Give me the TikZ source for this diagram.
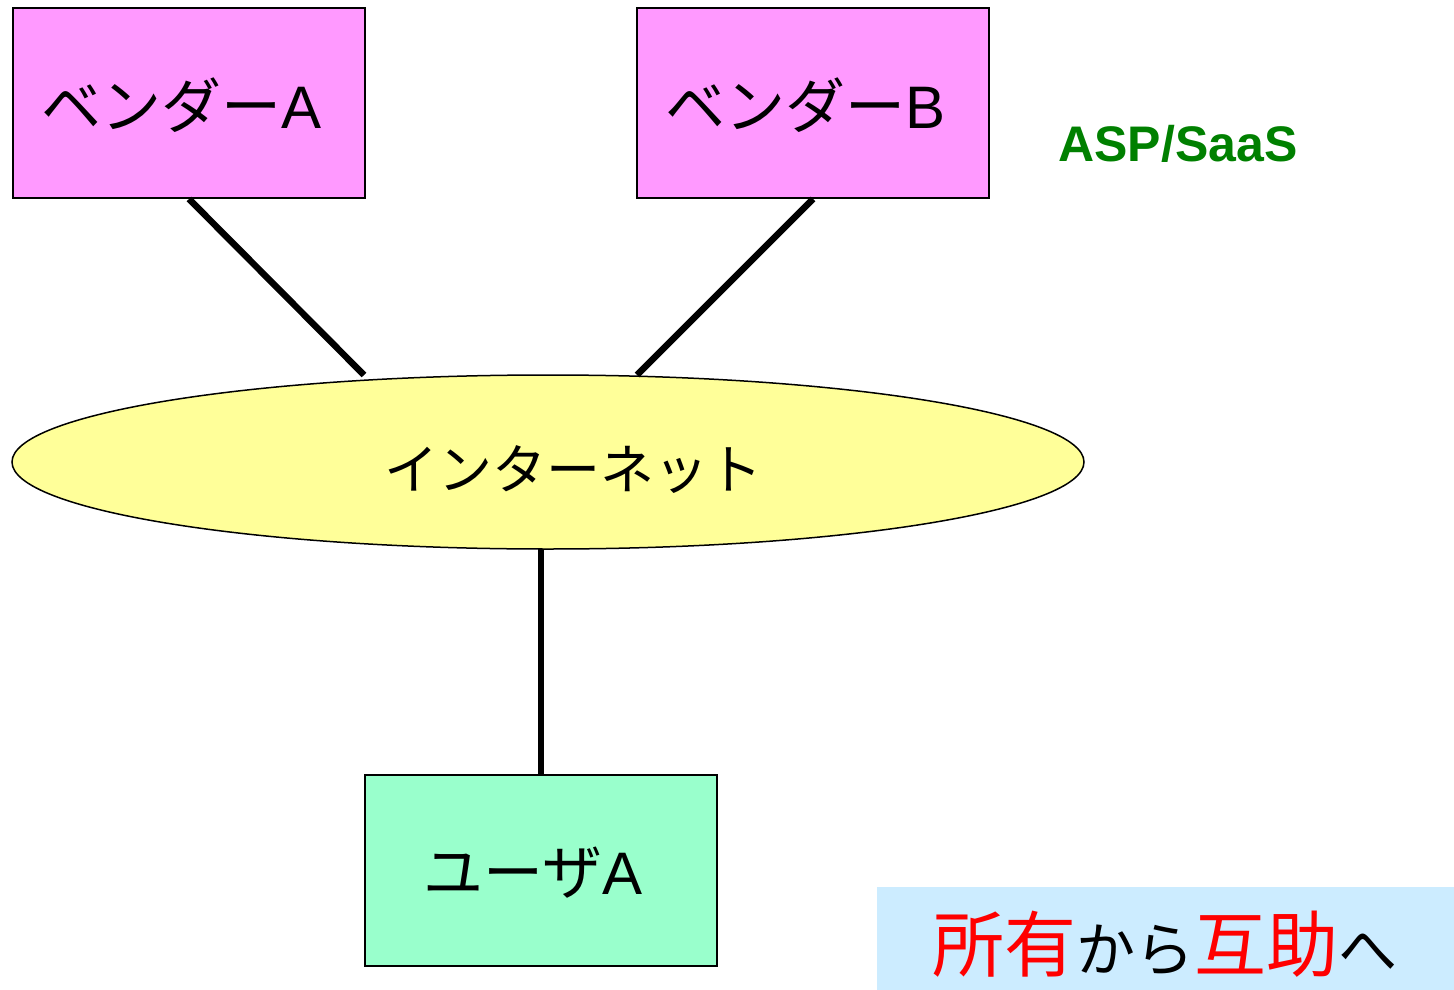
\documentclass[tikz,border=0pt]{standalone}
\usepackage{fontspec}
\setmainfont{Liberation Sans}
\newfontfamily\jp{Noto Sans CJK JP}
\usetikzlibrary{shapes.geometric}
\definecolor{vendorpink}{HTML}{FF99FF}
\definecolor{netyellow}{HTML}{FFFF99}
\definecolor{usergreen}{HTML}{99FFCC}
\definecolor{noteblue}{HTML}{CCECFF}
\definecolor{aspgreen}{HTML}{008000}
\definecolor{redtext}{HTML}{FF0000}
\tikzset{
  box/.style={draw=black, line width=2pt, minimum width=352pt, minimum height=190pt, inner sep=0pt},
  link/.style={line width=6.5pt},
  lbl/.style={font=\fontsize{60}{64}\selectfont},
}
\begin{document}
\begin{tikzpicture}[x=1pt,y=-1pt]
\useasboundingbox (0,0) rectangle (1454,990);
\node[box, fill=vendorpink] (vA) at (189,103) {};
\node[lbl] (tA) at (182,105) {\jp ベンダー\normalfont A};
\node[box, fill=vendorpink] (vB) at (813,103) {};
\node[lbl] (tB) at (806,105) {\jp ベンダー\normalfont B};
\node[text=aspgreen, font=\bfseries\fontsize{50}{54}\selectfont] (asp) at (1178,144) {ASP/SaaS};
\node[ellipse, draw=black, line width=1.5pt, fill=netyellow, minimum width=1072pt, minimum height=174pt, inner sep=0pt] (net) at (548,462) {};
\node[lbl, font=\jp\fontsize{54}{58}\selectfont] (tnet) at (573,470) {インターネット};
\node[box, fill=usergreen, minimum height=191pt] (user) at (541,870) {};
\node[lbl] (tuser) at (533,873) {\jp ユーザ\normalfont A};
\node[fill=noteblue, minimum width=577pt, minimum height=103pt, inner sep=0pt] (note) at (1165.5,938.5) {};
\node[font=\jp\fontsize{59}{63}\selectfont] (tnote) at (1165,944) {{\color{redtext}\fontsize{72}{76}\selectfont 所有}から{\color{redtext}\fontsize{72}{76}\selectfont 互助}へ};
\coordinate (pA) at (364,375);
\coordinate (pB) at (637,375);
\coordinate (pU) at (541,549);
\draw[link] (vA.south) -- (pA);
\draw[link] (vB.south) -- (pB);
\draw[link] (user.north) -- (pU);
\end{tikzpicture}
\end{document}
